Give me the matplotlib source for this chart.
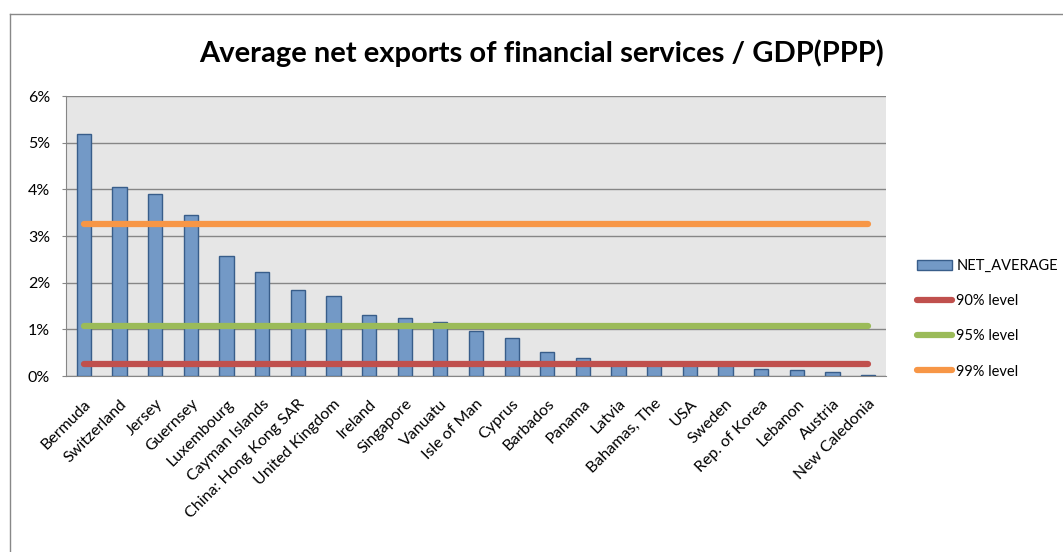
import numpy as np
import matplotlib.pyplot as plt
from matplotlib.lines import Line2D
from matplotlib.patches import Patch

countries = ["Bermuda", "Switzerland", "Jersey", "Guernsey", "Luxembourg",
             "Cayman Islands", "China: Hong Kong SAR", "United Kingdom", "Ireland",
             "Singapore", "Vanuatu", "Isle of Man", "Cyprus", "Barbados", "Panama",
             "Latvia", "Bahamas, The", "USA", "Sweden", "Rep. of Korea", "Lebanon",
             "Austria", "New Caledonia"]
net_average = [5.18, 4.04, 3.91, 3.46, 2.58, 2.23, 1.85, 1.72, 1.31, 1.25, 1.16,
               0.97, 0.82, 0.52, 0.39, 0.28, 0.26, 0.25, 0.24, 0.15, 0.13, 0.09, 0.02]
level_90 = 0.25
level_95 = 1.08
level_99 = 3.25

bar_face = "#7399C6"
bar_edge = "#385D8A"
c90 = "#C0504D"
c95 = "#9BBB59"
c99 = "#F79646"

plt.rcParams['font.family'] = ['Lato', 'DejaVu Sans']

fig = plt.figure(figsize=(10.63, 5.52), dpi=100)
ax = fig.add_axes([66/1063, 1 - 376/552, 820/1063, 280/552])
ax.set_facecolor("#E6E6E6")

x = np.arange(len(countries))
ax.bar(x, net_average, width=0.4, color=bar_face, edgecolor=bar_edge,
       linewidth=1, zorder=3)

for lvl, col in [(level_90, c90), (level_95, c95), (level_99, c99)]:
    ax.plot(x, [lvl] * len(x), color=col, lw=4.5, solid_capstyle="round", zorder=4)

ax.set_xlim(-0.5, len(countries) - 0.5)
ax.set_ylim(0, 6)
ax.set_yticks(range(0, 7))
ax.set_yticklabels([f"{v}%" for v in range(0, 7)], fontsize=11.5)
ax.yaxis.grid(True, color="#868686", lw=1, zorder=0)
ax.set_axisbelow(True)
for s in ["top", "right"]:
    ax.spines[s].set_visible(False)
for s in ["left", "bottom"]:
    ax.spines[s].set_color("#868686")
ax.tick_params(axis="y", length=3, color="#868686", pad=8.5)
ax.set_xticks(x)
ax.set_xticklabels(countries, rotation=45, ha="right", rotation_mode="anchor",
                   fontsize=11.5)
ax.tick_params(axis="x", length=0, pad=15)

fig.text(542/1063, 1 - 53/552, "Average net exports of financial services / GDP(PPP)",
         ha="center", va="center", fontsize=21, fontweight="bold")

handles = [Patch(facecolor=bar_face, edgecolor=bar_edge),
           Line2D([], [], color=c90, lw=4.5, solid_capstyle="round"),
           Line2D([], [], color=c95, lw=4.5, solid_capstyle="round"),
           Line2D([], [], color=c99, lw=4.5, solid_capstyle="round")]
fig.legend(handles, ["NET_AVERAGE", "90% level", "95% level", "99% level"],
           loc="upper left", bbox_to_anchor=(904/1063, 1 - 246/552),
           frameon=False, fontsize=10.5, handlelength=2.4, handletextpad=0.3,
           labelspacing=1.45)

# outer frame: only top and left edges
fig.add_artist(Line2D([10/1063, 1], [1 - 14/552, 1 - 14/552], color="#888888", lw=1))
fig.add_artist(Line2D([10/1063, 10/1063], [0, 1 - 14/552], color="#888888", lw=1))

fig.savefig("out.png", dpi=100)
